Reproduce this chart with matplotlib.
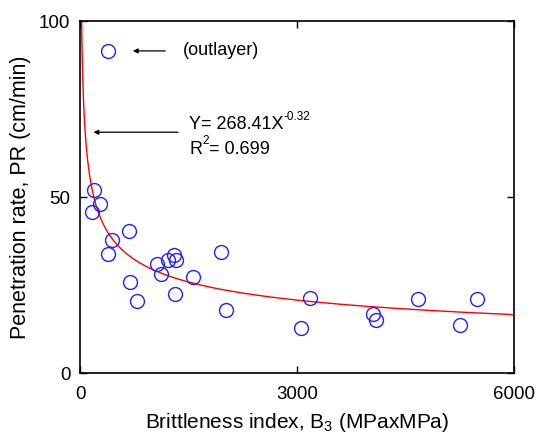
import numpy as np
import matplotlib
matplotlib.use("Agg")
import matplotlib.pyplot as plt

plt.rcParams['font.family'] = ['Liberation Sans', 'DejaVu Sans']
plt.rcParams['mathtext.fontset'] = 'custom'
plt.rcParams['mathtext.rm'] = 'Liberation Sans'
plt.rcParams['mathtext.it'] = 'Liberation Sans'

bi = [387, 198, 277, 166, 682, 438, 383, 1065, 1116, 1213, 1296, 1323, 1955,
      1563, 696, 784, 1310, 2024, 3181, 3052, 4047, 4088, 4675, 5260, 5485]
pr = [91.5, 52.0, 48.0, 45.8, 40.3, 37.8, 33.9, 31.1, 28.1, 32.1, 33.5, 32.2, 34.4,
      27.3, 25.9, 20.4, 22.4, 17.9, 21.4, 12.8, 16.7, 15.1, 20.9, 13.6, 20.9]
coef_a = 268.41
coef_b = -0.32
xticks = [0, 3000, 6000]
yticks = [0, 50, 100]

fig = plt.figure(figsize=(5.37, 4.36), dpi=100)
ax = fig.add_axes([80/537, 1-373/436, 434/537, 352/436])

xf = np.linspace(15, 6000, 2000)
ax.plot(xf, coef_a * xf**coef_b, color='red', lw=1.0)
ax.plot(bi, pr, 'o', mfc='none', mec='#2020ff', ms=10, mew=1.0, ls='none')

ax.set_xlim(0, 6000)
ax.set_ylim(0, 100)
ax.set_xticks(xticks)
ax.set_yticks(yticks)
ax.tick_params(direction='in', length=5, width=1, labelsize=13.5, top=True, right=True, pad=7)
ax.tick_params(axis='x', pad=9)
for s in ax.spines.values():
    s.set_linewidth(1.2)

ax.set_xlabel('Brittleness index, B$_{\\mathregular{3}}$ (MPaxMPa)', fontsize=15, labelpad=6)
ax.set_ylabel('Penetration rate, PR (cm/min)', fontsize=15.5, labelpad=6)

ax.annotate('', xy=(692, 91.5), xytext=(1217, 91.5),
            arrowprops=dict(arrowstyle='-|>', color='black', lw=0.9, mutation_scale=7))
ax.text(1420, 91.5, '(outlayer)', fontsize=13, va='center', ha='left')

ax.annotate('', xy=(148, 68.4), xytext=(1393, 68.4),
            arrowprops=dict(arrowstyle='-|>', color='black', lw=0.9, mutation_scale=7))
t1 = ax.text(1508, 70.5, 'Y= 268.41X', fontsize=13, va='center', ha='left')
t2 = ax.text(1508, 63.5, 'R', fontsize=13, va='center', ha='left')
fig.canvas.draw()
r = fig.canvas.get_renderer()
e1 = t1.get_window_extent(r)
e2 = t2.get_window_extent(r)
inv = ax.transData.inverted()
x1 = inv.transform((e1.x1, e1.y1))[0]
x2 = inv.transform((e2.x1, e2.y1))[0]
ax.text(x1 + 5, 70.5 + 2.3, '-0.32', fontsize=8.5, va='center', ha='left')
t3 = ax.text(x2 + 5, 63.5 + 2.3, '2', fontsize=8.5, va='center', ha='left')
fig.canvas.draw()
e3 = t3.get_window_extent(r)
x3 = inv.transform((e3.x1, e3.y1))[0]
ax.text(x3, 63.5, '= 0.699', fontsize=13, va='center', ha='left')

fig.savefig('out.png', dpi=100)
